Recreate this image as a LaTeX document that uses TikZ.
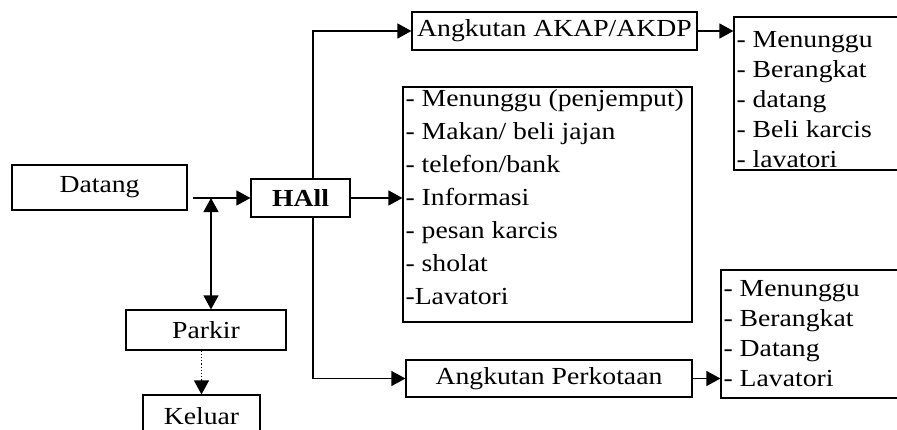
\documentclass[tikz,border=0pt]{standalone}
\usepackage{fontspec}
\setmainfont{Liberation Serif}[FakeStretch=1.13]
\usetikzlibrary{arrows.meta}
\begin{document}
\begin{tikzpicture}[x=1pt,y=-1pt,
  tip/.tip={Triangle[length=14pt,width=15pt]},
  box/.style={draw, line width=1.2pt, rectangle, inner sep=0pt, font=\fontsize{24.5}{28}\selectfont},
  arr/.style={line width=1.2pt, -tip},
  lst/.style={anchor=base west, align=left, inner sep=0pt, font=\fontsize{24.5}{30}\selectfont},
  lstm/.style={lst, font=\fontsize{24.5}{33}\selectfont}]
\clip (0,0) rectangle (897,429);
\fill[white] (0,0) rectangle (897,429);
% boxes
\node[box, minimum width=175pt, minimum height=45pt] (datang) at (99.5,187.5) {Datang};
\node[box, minimum width=99pt, minimum height=38pt, font=\fontsize{24.5}{28}\selectfont\bfseries] (hall) at (300.5,198) {HAll};
\node[box, minimum width=285pt, minimum height=38pt] (akap) at (554.5,31) {Angkutan AKAP/AKDP};
\node[box, minimum width=171pt, minimum height=153pt] (tr) at (819.5,93.5) {};
\node[box, minimum width=289pt, minimum height=235pt] (mid) at (547.5,204.5) {};
\node[box, minimum width=286pt, minimum height=37pt] (perk) at (549,378.5) {Angkutan Perkotaan};
\node[box, minimum width=184pt, minimum height=128pt] (br) at (813,334) {};
\node[box, minimum width=160pt, minimum height=40pt] (parkir) at (206,330) {Parkir};
\node[box, minimum width=117pt, minimum height=42pt] (keluar) at (201.5,416) {Keluar};
% lists (base anchor = baseline of last line)
\node[lst] (trtext) at ([xshift=3pt] tr.west |- 0,167) {- Menunggu\\- Berangkat\\- datang\\- Beli karcis\\- lavatori};
\node[lstm] (midtext) at ([xshift=3pt] mid.west |- 0,304) {- Menunggu (penjemput)\\- Makan/ beli jajan\\- telefon/bank\\- Informasi\\- pesan karcis\\- sholat\\-Lavatori};
\node[lst] (brtext) at ([xshift=3pt] br.west |- 0,386) {- Menunggu\\- Berangkat\\- Datang\\- Lavatori};
% connectors
\coordinate (dstart) at (193,198);
\coordinate (junc) at (211,198);
\coordinate (trunk) at (313,0);
\draw[arr] (dstart) -- (dstart -| hall.west);
\draw[line width=1.2pt, tip-tip] (junc) -- (junc |- parkir.north);
\draw[arr, dotted] (parkir.south -| keluar.north) -- (keluar.north);
\draw[arr] (hall.north -| trunk) |- (akap.west);
\draw[arr] (hall.east) -- (hall.east -| mid.west);
\draw[arr] (hall.south -| trunk) |- (perk.west);
\draw[arr] (akap.east) -- (akap.east -| tr.west);
\draw[arr] (perk.east) -- (perk.east -| br.west);
\end{tikzpicture}
\end{document}
